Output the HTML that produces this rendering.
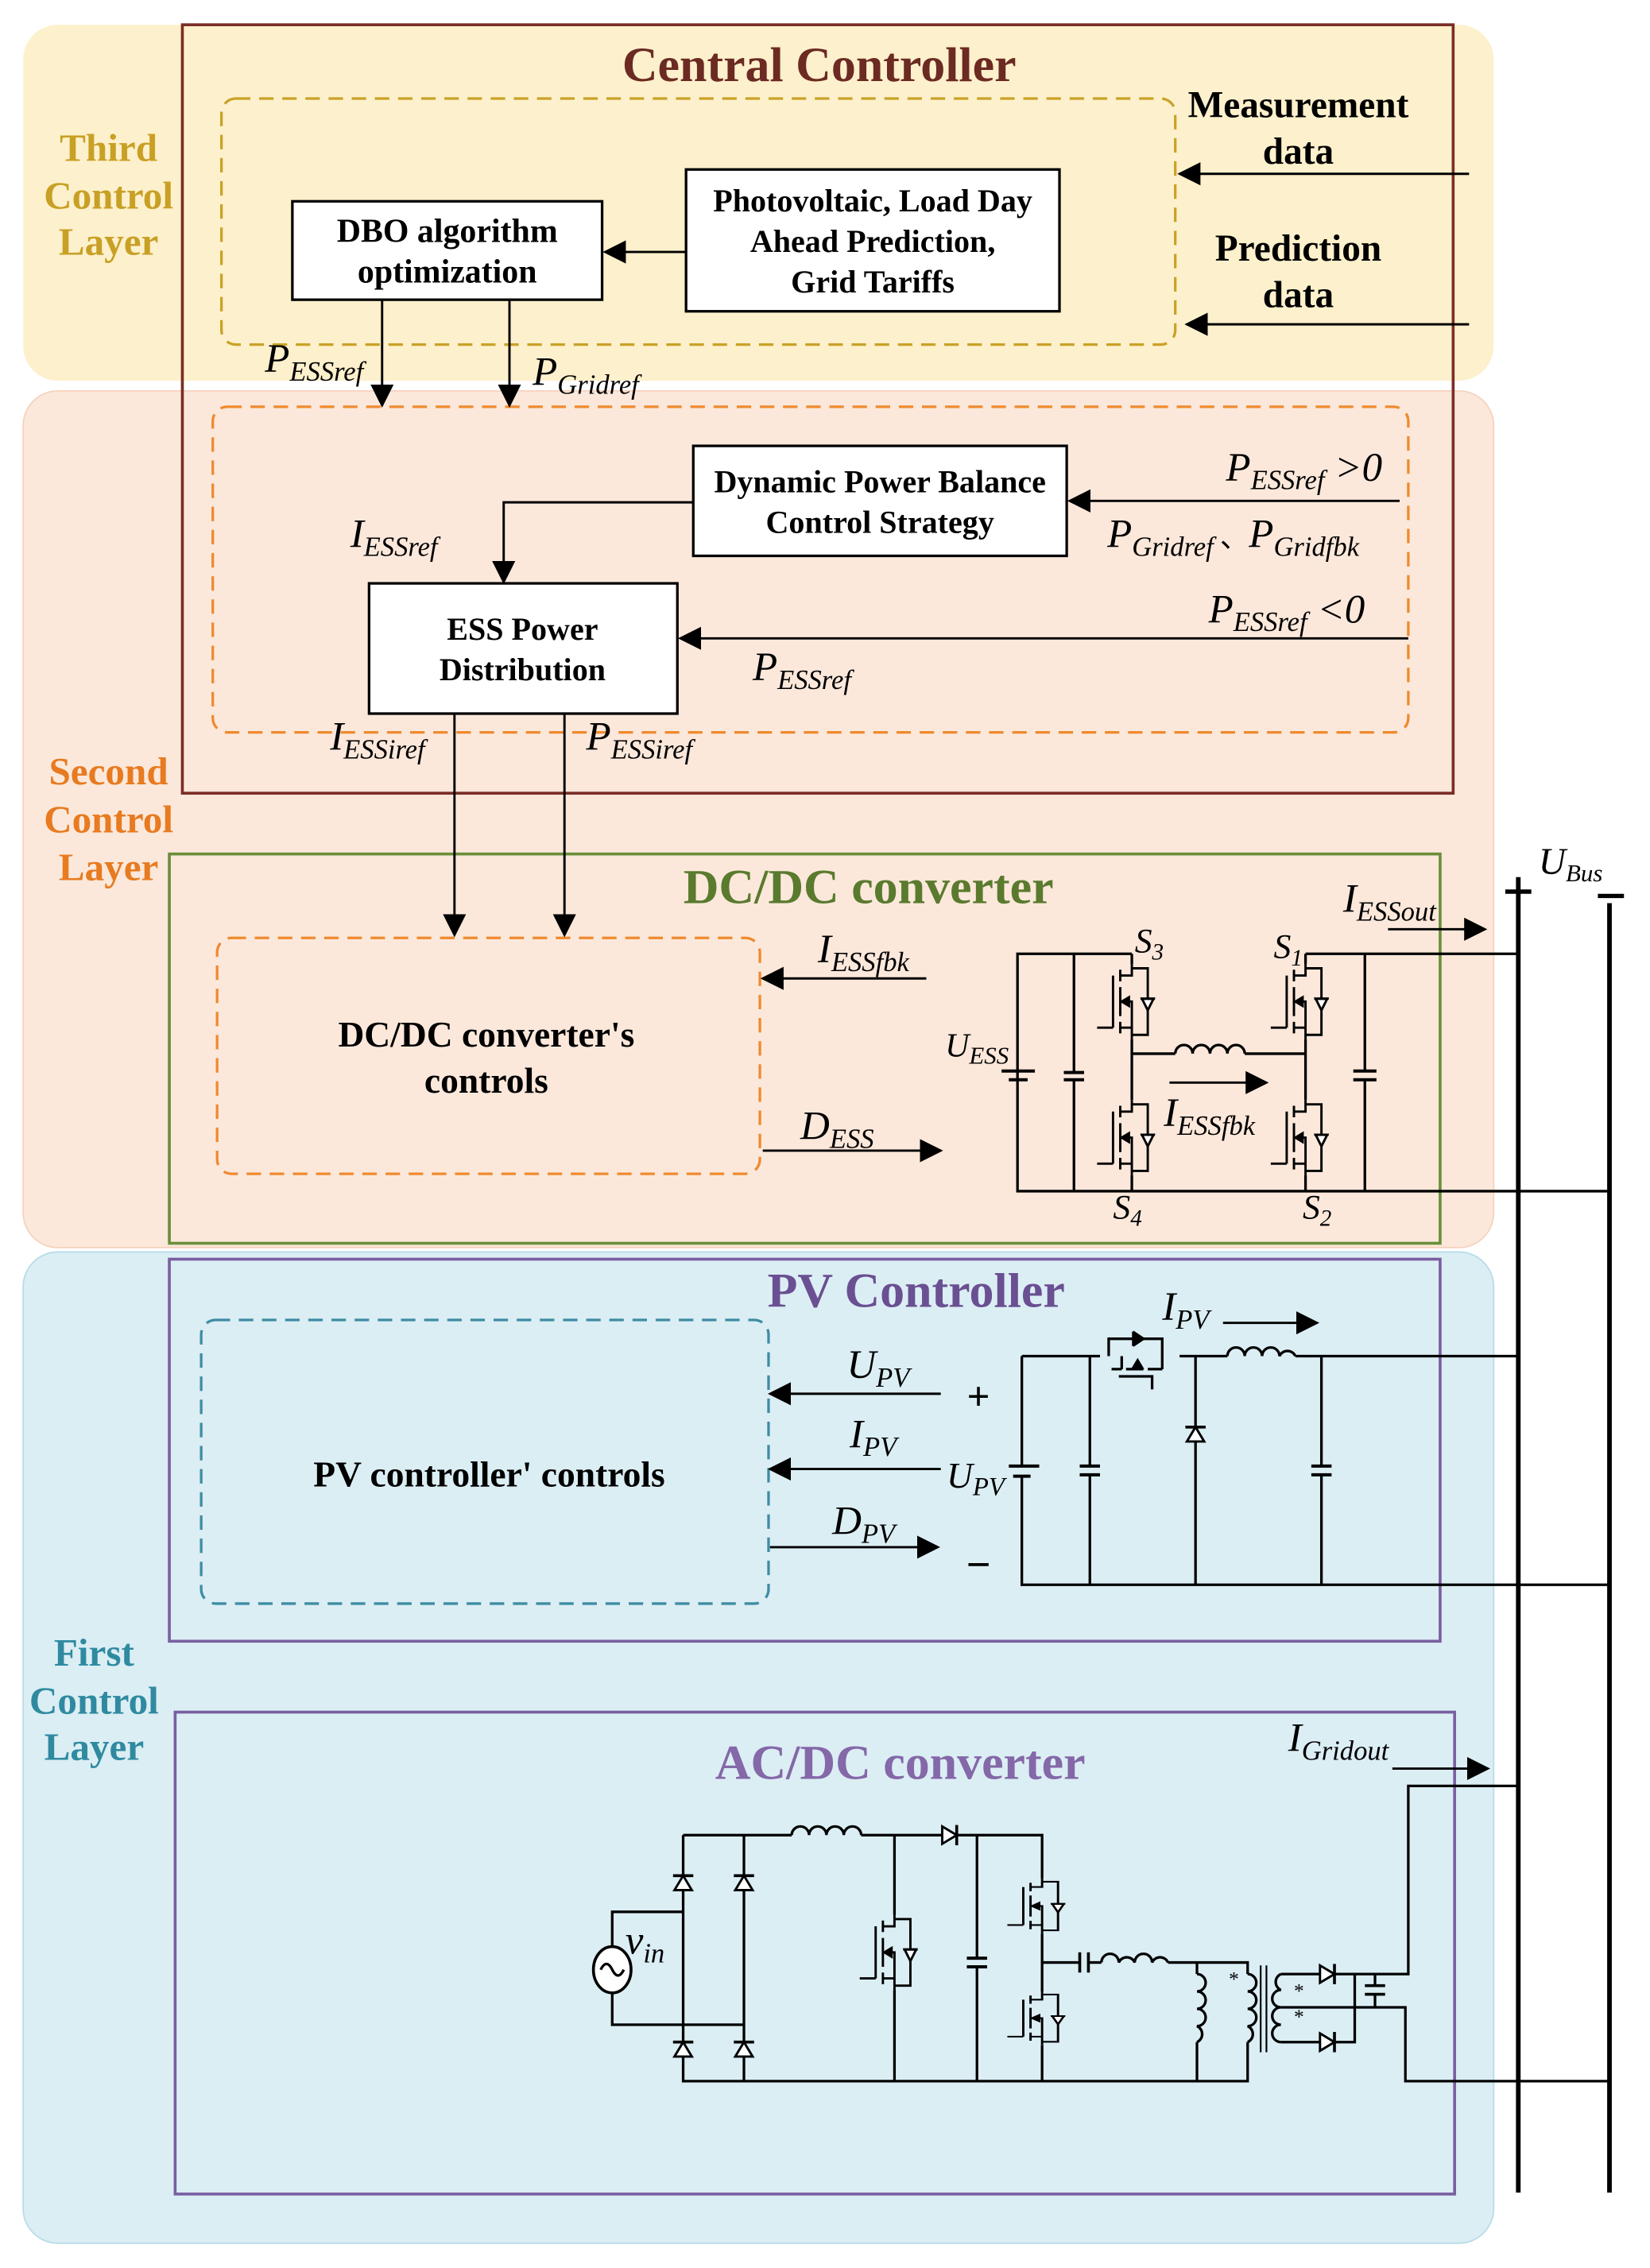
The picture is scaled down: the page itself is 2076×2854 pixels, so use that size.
<!DOCTYPE html>
<html><head><meta charset="utf-8"><style>
html,body{margin:0;padding:0;background:#fff}
svg{display:block}
.b{font-family:"Liberation Serif",serif;font-weight:bold}
.m{font-family:"Liberation Serif",serif;font-style:italic}
</style></head><body>
<svg width="2076" height="2854" viewBox="0 0 1140 1567" xmlns="http://www.w3.org/2000/svg">
<defs>
<marker id="ar" viewBox="0 0 10 10" refX="9" refY="5" markerWidth="16" markerHeight="16" markerUnits="userSpaceOnUse" orient="auto"><path d="M0 0L10 5L0 10z" fill="#000"/></marker>
<g id="mos" fill="none" stroke="#000" stroke-width="1.6">
<path d="M0 0V8H-8M-8 4V12M-8 16V36M-8 40V48M0 52V44H-8M-8 26H0V44M-13 8V44M-13 44H-24"/>
<path d="M-7 26l5-3v6z" fill="#000"/>
<path d="M0 3H11V49H0"/>
<path d="M11 32l-4-8h8z" fill="#fff"/><path d="M6 24H16"/>
</g>
<g id="dio"><path d="M-6 6L0 -4L6 6z" fill="#fff" stroke="#000" stroke-width="1.6"/><path d="M-7 -4H7" stroke="#000" stroke-width="2"/></g>
</defs>
<rect width="1140" height="1567" fill="#fff"/>
<rect x="16" y="17" width="1016" height="246" rx="24" fill="#fdf0cc"/>
<rect x="16" y="270" width="1016" height="592" rx="24" fill="#fbe8db" stroke="#f6d3bd" stroke-width="1"/>
<rect x="16" y="865" width="1016" height="685" rx="24" fill="#dbeef4" stroke="#b9dce8" stroke-width="1"/>
<rect x="126" y="17" width="878" height="531" fill="none" stroke="#7b2d26" stroke-width="2"/>
<rect x="153" y="68" width="659" height="170" rx="10" fill="none" stroke="#c9a227" stroke-width="1.8" stroke-dasharray="10,6"/>
<rect x="147" y="281" width="826" height="225" rx="10" fill="none" stroke="#ef8a2e" stroke-width="1.8" stroke-dasharray="10,6"/>
<rect x="117" y="590" width="878" height="269" fill="none" stroke="#6b8e3a" stroke-width="2"/>
<rect x="150" y="648" width="375" height="163" rx="10" fill="none" stroke="#ef8a2e" stroke-width="1.8" stroke-dasharray="10,6"/>
<rect x="117" y="870" width="878" height="264" fill="none" stroke="#7a5fa0" stroke-width="2"/>
<rect x="139" y="912" width="392" height="196" rx="10" fill="none" stroke="#3e8ca3" stroke-width="1.8" stroke-dasharray="10,6"/>
<rect x="121" y="1183" width="884" height="333" fill="none" stroke="#7a5fa0" stroke-width="2"/>

<g class="b" font-size="27" text-anchor="middle">
<text x="75" y="111" fill="#c8a024">Third</text><text x="75" y="144" fill="#c8a024">Control</text><text x="75" y="176" fill="#c8a024">Layer</text>
<text x="75" y="542" fill="#e87a20">Second</text><text x="75" y="575" fill="#e87a20">Control</text><text x="75" y="608" fill="#e87a20">Layer</text>
<text x="65" y="1151" fill="#2f8aa0">First</text><text x="65" y="1184" fill="#2f8aa0">Control</text><text x="65" y="1216" fill="#2f8aa0">Layer</text>
<text x="566" y="56" font-size="34" fill="#6b2a22">Central Controller</text>
<text x="600" y="624" font-size="34" fill="#5a7a2e">DC/DC converter</text>
<text x="633" y="903" font-size="34" fill="#6a4f92">PV Controller</text>
<text x="622" y="1229" font-size="34" fill="#8468a8">AC/DC converter</text>
<text x="897" y="81" font-size="26" fill="#000">Measurement</text><text x="897" y="113" font-size="26" fill="#000">data</text>
<text x="897" y="180" font-size="26" fill="#000">Prediction</text><text x="897" y="212" font-size="26" fill="#000">data</text>
<text x="336" y="723" font-size="25" fill="#000">DC/DC converter's</text><text x="336" y="755" font-size="25" fill="#000">controls</text>
<text x="338" y="1027" font-size="25" fill="#000">PV controller' controls</text>
</g>

<g fill="#fff" stroke="#000" stroke-width="1.8">
<rect x="202" y="139" width="214" height="68"/>
<rect x="474" y="117" width="258" height="98"/>
<rect x="479" y="308" width="258" height="76"/>
<rect x="255" y="403" width="213" height="90"/>
</g>
<g class="b" font-size="23" text-anchor="middle">
<text x="309" y="167">DBO algorithm</text><text x="309" y="195">optimization</text>
<text x="603" y="146" font-size="22">Photovoltaic, Load Day</text><text x="603" y="174" font-size="22">Ahead Prediction,</text><text x="603" y="202" font-size="22">Grid Tariffs</text>
<text x="608" y="340" font-size="22">Dynamic Power Balance</text><text x="608" y="368" font-size="22">Control Strategy</text>
<text x="361" y="442" font-size="22">ESS Power</text><text x="361" y="470" font-size="22">Distribution</text>
</g>

<g stroke="#000" stroke-width="1.6" fill="none" marker-end="url(#ar)">
<path d="M1015 120H815"/><path d="M1015 224H820"/>
<path d="M474 174H418"/>
<path d="M264 207V280"/><path d="M352 207V280"/>
<path d="M967 346H739"/>
<path d="M479 347H348V402"/>
<path d="M973 441H470"/>
<path d="M314 493V646"/><path d="M390 493V646"/>
<path d="M640 676H527"/><path d="M527 795H650"/>
<path d="M650 963H532"/><path d="M650 1015H532"/><path d="M532 1069H648"/>
<path d="M959 642H1026"/><path d="M808 748H875"/>
<path d="M845 914H910"/>
<path d="M962 1222H1028"/>
</g>

<g class="m" font-size="28">
<text x="183" y="257">P<tspan font-size="19" dy="6">ESSref</tspan></text>
<text x="368" y="266">P<tspan font-size="19" dy="6">Gridref</tspan></text>
<text x="847" y="332">P<tspan font-size="19" dy="6">ESSref</tspan><tspan dy="-6"> &gt;0</tspan></text>
<text x="765" y="378">P<tspan font-size="19" dy="6">Gridref</tspan><tspan dy="-6" font-style="normal" font-family="'Noto Sans CJK SC',sans-serif" font-size="20"> 、</tspan><tspan>P</tspan><tspan font-size="19" dy="6">Gridfbk</tspan></text>
<text x="242" y="378">I<tspan font-size="19" dy="6">ESSref</tspan></text>
<text x="835" y="430">P<tspan font-size="19" dy="6">ESSref</tspan><tspan dy="-6"> &lt;0</tspan></text>
<text x="520" y="470">P<tspan font-size="19" dy="6">ESSref</tspan></text>
<text x="228" y="518">I<tspan font-size="19" dy="6">ESSiref</tspan></text>
<text x="405" y="518">P<tspan font-size="19" dy="6">ESSiref</tspan></text>
<text x="565" y="665">I<tspan font-size="19" dy="6">ESSfbk</tspan></text>
<text x="553" y="787">D<tspan font-size="19" dy="6">ESS</tspan></text>
<text x="653" y="730" font-size="23">U<tspan font-size="17" dy="5">ESS</tspan></text>
<text x="804" y="778">I<tspan font-size="19" dy="6">ESSfbk</tspan></text>
<text x="928" y="630">I<tspan font-size="19" dy="6">ESSout</tspan></text>
<text x="1063" y="604" font-size="26">U<tspan font-size="17" dy="5">Bus</tspan></text>
<text x="784" y="658" font-size="24">S<tspan font-size="16" dy="5">3</tspan></text>
<text x="880" y="662" font-size="24">S<tspan font-size="16" dy="5">1</tspan></text>
<text x="769" y="842" font-size="24">S<tspan font-size="16" dy="5">4</tspan></text>
<text x="900" y="842" font-size="24">S<tspan font-size="16" dy="5">2</tspan></text>
<text x="585" y="952">U<tspan font-size="19" dy="6">PV</tspan></text>
<text x="587" y="1000">I<tspan font-size="19" dy="6">PV</tspan></text>
<text x="575" y="1060">D<tspan font-size="19" dy="6">PV</tspan></text>
<text x="654" y="1028" font-size="25">U<tspan font-size="18" dy="5">PV</tspan></text>
<text x="803" y="912">I<tspan font-size="19" dy="6">PV</tspan></text>
<text x="890" y="1210">I<tspan font-size="19" dy="6">Gridout</tspan></text>
<text x="432" y="1350">v<tspan font-size="19" dy="6">in</tspan></text>
</g>
<text x="676" y="974" class="b" font-size="28" text-anchor="middle">+</text>
<text x="676" y="1091" class="b" font-size="30" text-anchor="middle">−</text>

<g stroke="#000" fill="none">
<path d="M1049 606V1515M1112 624V1515" stroke-width="3.2"/>
<path d="M1040 616H1058M1104 619H1122" stroke-width="3"/>
</g>

<g stroke="#000" stroke-width="1.8" fill="none">
<path d="M782 659H703V823H1112"/>
<path d="M742 659V741M742 746V823"/><path d="M735 741H749M735 746H749" stroke-width="2.2"/>
<path d="M692 740H715" stroke-width="2.2"/><path d="M697 746H710" stroke-width="2.2"/>
<path d="M782 659V666M782 718V760M782 812V823"/>
<path d="M902 659H1049M902 659V666M902 718V760M902 812V823"/>
<path d="M943 659V740M943 746V823"/><path d="M935 740H951M935 746H951" stroke-width="2.2"/>
<path d="M782 728H812M860 728H902"/>
<path d="M812 728a6 6 0 0 1 12 0a6 6 0 0 1 12 0a6 6 0 0 1 12 0a6 6 0 0 1 12 0"/>
</g>
<use href="#mos" x="782" y="666"/><use href="#mos" x="782" y="760"/>
<use href="#mos" x="902" y="666"/><use href="#mos" x="902" y="760"/>

<g stroke="#000" stroke-width="1.8" fill="none">
<path d="M706 937H760M815 937H848M895 937H1049"/>
<path d="M848 937a6 6 0 0 1 12 0a6 6 0 0 1 12 0a6 6 0 0 1 12 0a6 6 0 0 1 11 0"/>
<path d="M706 937V1013M706 1020V1095H1112"/>
<path d="M697 1013H718M700 1020H712" stroke-width="2.2"/>
<path d="M753 937V1013M753 1019V1095"/><path d="M746 1013H760M746 1019H760" stroke-width="2.2"/>
<path d="M826 937V1095"/>
<path d="M913 937V1013M913 1019V1095"/><path d="M906 1013H920M906 1019H920" stroke-width="2.2"/>
<path d="M766 937V925H803V937"/>
<path d="M768 946H775M778 946H790M793 946H803M775 937V946M803 937V946M773 951H796V960"/>
<path d="M786 940l-3 5h6z" fill="#000"/>
<path d="M790 925l-6-4v8z" fill="#000"/><path d="M783 920V930"/>
</g>
<use href="#dio" x="826" y="990"/>

<g stroke="#000" stroke-width="1.8" fill="none">
<path d="M472 1268H547M595 1268H652M662 1268H720V1298"/>
<path d="M547 1268a6 6 0 0 1 12 0a6 6 0 0 1 12 0a6 6 0 0 1 12 0a6 6 0 0 1 12 0"/>
<path d="M472 1268V1438H862V1411"/><path d="M514 1268V1438"/>
<path d="M423 1346V1321H472M423 1376V1399H514"/>
<path d="M618 1268V1323M618 1375V1438"/>
<path d="M675 1268V1353M675 1359V1438"/><path d="M668 1353H682M668 1359H682" stroke-width="2.2"/>
<path d="M720 1336V1376M720 1413V1438"/>
<path d="M720 1356H746M752 1356H761M807 1356H862V1364"/><path d="M746 1349V1363M752 1349V1363" stroke-width="2"/>
<path d="M761 1356a6 6 0 0 1 12 0a6 6 0 0 1 11 0a6 6 0 0 1 12 0a6 6 0 0 1 11 0"/>
<path d="M827 1356V1364M827 1411V1438"/>
<path d="M827 1364a6 6 0 0 1 0 12a6 6 0 0 1 0 12a6 6 0 0 1 0 12a6 6 0 0 1 0 11"/>
<path d="M862 1364a6 6 0 0 1 0 12a6 6 0 0 1 0 12a6 6 0 0 1 0 12a6 6 0 0 1 0 11"/>
<path d="M871 1358V1418M875 1358V1418" stroke-width="1.2"/>
<path d="M885 1364a6 6 0 0 0 0 11a6 6 0 0 0 0 12a6 6 0 0 0 0 12a6 6 0 0 0 0 12"/>
<path d="M885 1364H936M885 1411H936V1364M885 1387H971V1438H1112"/>
<path d="M936 1364H973V1234H1049"/>
<path d="M950 1364V1372M950 1378V1387"/><path d="M943 1372H957M943 1378H957" stroke-width="2"/>
<ellipse cx="423" cy="1361" rx="13" ry="16" fill="#fff" stroke-width="2"/>
<path d="M415 1361q4-8 8 0t8 0"/>
</g>
<use href="#dio" x="472" y="1300"/><use href="#dio" x="514" y="1300"/>
<use href="#dio" x="472" y="1415"/><use href="#dio" x="514" y="1415"/>
<use href="#dio" transform="translate(657 1268) rotate(90)"/>
<use href="#dio" transform="translate(918 1364) rotate(90)"/>
<use href="#dio" transform="translate(918 1411) rotate(90)"/>
<use href="#mos" transform="translate(618 1323)"/>
<use href="#mos" transform="translate(720 1298) scale(1 0.73)"/>
<use href="#mos" transform="translate(720 1376) scale(1 0.71)"/>
<g font-family="Liberation Serif,serif" font-size="14"><text x="849" y="1372">*</text><text x="894" y="1380">*</text><text x="894" y="1398">*</text></g>
</svg>
</body></html>
